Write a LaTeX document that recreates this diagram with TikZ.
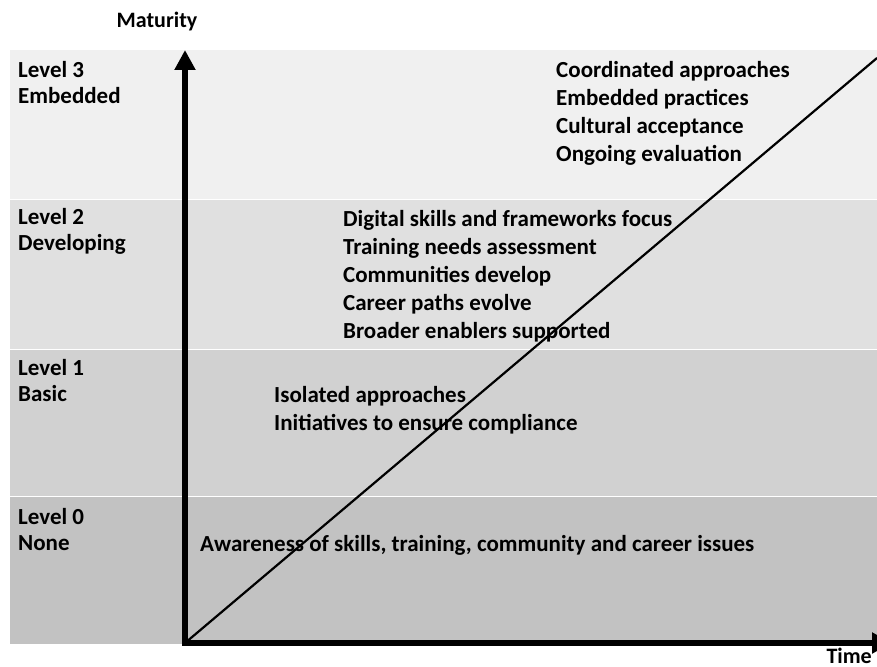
\documentclass[tikz,border=0pt]{standalone}
\usepackage{fontspec}
\setmainfont{Carlito}
\usetikzlibrary{arrows.meta,positioning}
\definecolor{lvlthree}{gray}{0.94}
\definecolor{lvltwo}{gray}{0.88}
\definecolor{lvlone}{gray}{0.82}
\definecolor{lvlzero}{gray}{0.76}
\begin{document}
\begin{tikzpicture}[
        x=1pt, y=-1pt,
        lvl/.style={anchor=north west, align=left, inner sep=0pt, font=\bfseries\fontsize{23}{26.5}\selectfont},
        item/.style={anchor=north west, align=left, inner sep=0pt, font=\bfseries\fontsize{23}{28}\selectfont},
        lbl/.style={inner sep=0pt, font=\bfseries\fontsize{22}{26}\selectfont},
        axis/.style={line width=6pt, -{Triangle[width=20pt,length=20pt]}}
    ]
        \useasboundingbox (0,0) rectangle (877,666);

        % Bands
        \fill[lvlthree] (10,50) rectangle (877,199);
        \fill[lvltwo] (10,200) rectangle (877,349);
        \fill[lvlone] (10,350) rectangle (877,496);
        \fill[lvlzero] (10,497) rectangle (877,644);

        % Level names
        \node[lvl] (l3) at (18,61) {Level 3\\Embedded};
        \node[lvl] (l2) at (18,208) {Level 2\\Developing};
        \node[lvl] (l1) at (18,359) {Level 1\\Basic};
        \node[lvl] (l0) at (18,508) {Level 0\\None};

        % Descriptions
        \node[item] (d3) at (556,61) {Coordinated approaches\\Embedded practices\\Cultural acceptance\\Ongoing evaluation};
        \node[item] (d2) at (343,210) {Digital skills and frameworks focus\\Training needs assessment\\Communities develop\\Career paths evolve\\Broader enablers supported};
        \node[item] (d1) at (274,386) {Isolated approaches\\Initiatives to ensure compliance};
        \node[item] (d0) at (200,535) {Awareness of skills, training, community and career issues};

        % Axes
        \coordinate (o) at (185,643);
        \coordinate (ytop) at (185,50);
        \coordinate (xend) at (892,643);
        \coordinate (diag) at (877,58);
        \draw[axis] (o) -- (ytop);
        \draw[axis] (182,643) -- (xend);
        \draw[line width=2.2pt] (o) -- (diag);

        \node[lbl, anchor=base] (mat) at (157,27.5) {Maturity};
        \node[lbl, anchor=north east] (time) at (872,648) {Time};
    \end{tikzpicture}
\end{document}
